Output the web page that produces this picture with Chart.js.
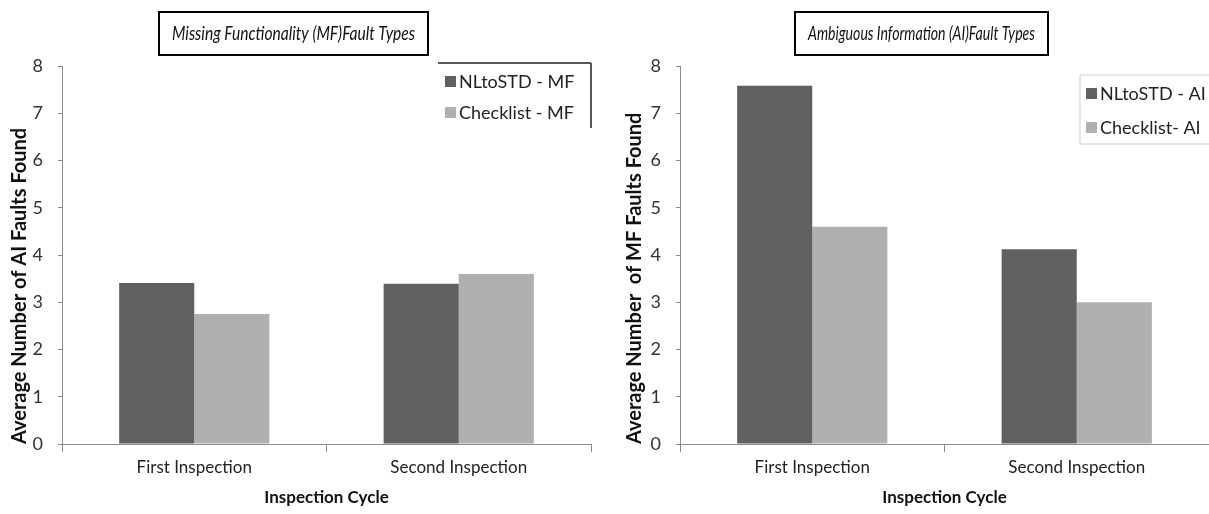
<!DOCTYPE html>
<html>
<head>
<meta charset="utf-8">
<script src="https://cdn.jsdelivr.net/npm/chart.js@4"></script>
<style>
  body { margin: 0; background: #fff; }
  #wrap { position: relative; width: 1209px; height: 514px; overflow: hidden; }
  canvas { position: absolute; top: 0; }
</style>
</head>
<body>
<div id="wrap">
  <canvas id="mfChart" width="604" height="514" style="left:0"></canvas>
  <canvas id="aiChart" width="605" height="514" style="left:604px"></canvas>
</div>
<script>
// data
const categories = ['First Inspection', 'Second Inspection'];
const nltostdMF = [3.41, 3.39];
const checklistMF = [2.75, 3.6];
const nltostdAI = [7.58, 4.12];
const checklistAI = [4.6, 3.0];
const yMin = 0, yMax = 8, yStep = 1;

const FONT = 'Lato';
const DARK = '#606060';
const LIGHT = '#b0b0b0';
const AXIS = '#8c8c8c';

Chart.defaults.font.family = FONT;

// boxed italic title above each panel
const boxTitle = {
  id: 'boxTitle',
  afterDraw(chart, args, o) {
    const c = chart.ctx;
    c.save();
    c.lineWidth = 2;
    c.strokeStyle = '#000';
    c.strokeRect(o.left, o.top, o.right - o.left, o.bottom - o.top);
    c.font = 'italic 20px ' + FONT;
    c.fillStyle = '#111';
    c.textAlign = 'center';
    c.textBaseline = 'middle';
    c.fillText(o.text, (o.left + o.right) / 2, (o.top + o.bottom) / 2, o.right - o.left - 26);
    c.restore();
  }
};

// legend with partial frame, items taken from the datasets
const sideLegend = {
  id: 'sideLegend',
  afterDraw(chart, args, o) {
    const c = chart.ctx;
    c.save();
    c.strokeStyle = o.lineColor;
    c.lineWidth = o.lineWidth;
    c.beginPath();
    o.edges.forEach(e => { c.moveTo(e[0], e[1]); c.lineTo(e[2], e[3]); });
    c.stroke();
    c.font = '18px ' + FONT;
    c.textBaseline = 'middle';
    chart.data.datasets.forEach((ds, i) => {
      const y = o.rows[i];
      c.fillStyle = ds.backgroundColor;
      c.fillRect(o.boxX, y - 5, 11, 11);
      c.fillStyle = '#222';
      c.fillText(ds.label, o.textX, y + 1);
    });
    c.restore();
  }
};

function makeChart(id, s1, s2, labels, yTitle, yTitlePad, yWidth, padRight, title, legend) {
  return new Chart(document.getElementById(id), {
    type: 'bar',
    data: {
      labels: categories,
      datasets: [
        { label: labels[0], data: s1, backgroundColor: DARK },
        { label: labels[1], data: s2, backgroundColor: LIGHT }
      ]
    },
    options: {
      responsive: false,
      animation: false,
      devicePixelRatio: 1,
      layout: { padding: { left: 0, top: 66, right: padRight, bottom: 0 } },
      datasets: { bar: { categoryPercentage: 0.568, barPercentage: 1.0, borderWidth: 0 } },
      plugins: {
        legend: { display: false },
        tooltip: { enabled: false },
        boxTitle: title,
        sideLegend: legend
      },
      scales: {
        x: {
          afterFit: s => { s.height = 70; },
          grid: { drawOnChartArea: false, drawTicks: true, tickLength: 8, color: AXIS },
          border: { display: true, color: AXIS },
          ticks: { color: '#222', font: { size: 17 }, padding: 5 },
          title: { display: true, text: 'Inspection Cycle', color: '#111',
                   font: { size: 17, weight: 'bold' }, padding: { top: 6, bottom: 6 } }
        },
        y: {
          min: yMin, max: yMax,
          afterFit: s => { s.width = yWidth; },
          grid: { drawOnChartArea: false, drawTicks: true, tickLength: 4, color: AXIS },
          border: { display: true, color: AXIS },
          ticks: { stepSize: yStep, color: '#333', font: { size: 18 }, padding: 15 },
          title: { display: true, text: yTitle, align: 'start', color: '#111',
                   font: { size: 20, weight: 'bold' }, padding: { top: yTitlePad, bottom: yTitlePad } }
        }
      }
    },
    plugins: [boxTitle, sideLegend]
  });
}

makeChart('mfChart', nltostdMF, checklistMF, ['NLtoSTD - MF', 'Checklist - MF'],
  'Average Number of AI Faults Found', 8, 62, 13,
  { text: 'Missing Functionality (MF)Fault Types', left: 159, top: 12, right: 428, bottom: 55 },
  { lineColor: '#222', lineWidth: 1.5, edges: [[438, 63, 591, 63], [591, 63, 591, 128]],
    rows: [81, 112], boxX: 445, textX: 459 });

makeChart('aiChart', nltostdAI, checklistAI, ['NLtoSTD - AI', 'Checklist- AI'],
  'Average Number  of MF Faults Found', 19, 76, 0,
  { text: 'Ambiguous Information (AI)Fault Types', left: 191, top: 12, right: 444, bottom: 55 },
  { lineColor: '#cfcfcf', lineWidth: 1, edges: [[476, 75, 605, 75], [476, 75, 476, 144], [476, 144, 605, 144]],
    rows: [93, 127], boxX: 482, textX: 496 });
</script>
</body>
</html>
